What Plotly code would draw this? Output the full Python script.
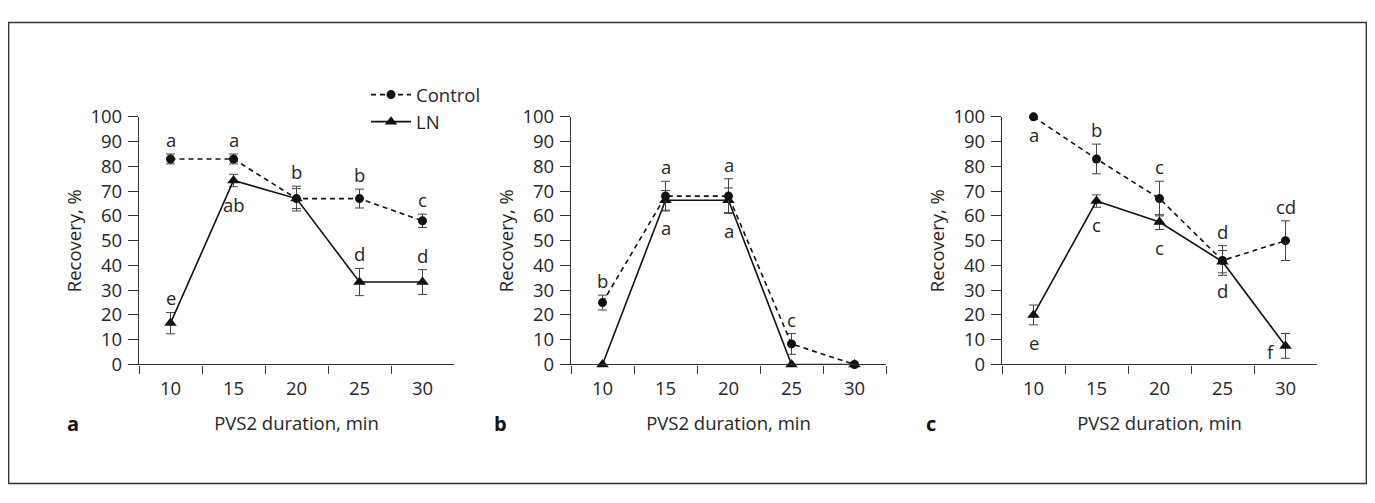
import plotly.graph_objects as go

durations = ["10", "15", "20", "25", "30"]
y_ticks = [0, 10, 20, 30, 40, 50, 60, 70, 80, 90, 100]

# Panel a
a_control = [83, 83, 67, 67, 58]
a_control_err = [2, 2, 5, 3.8, 2.7]
a_ln = [16.7, 74.3, 67, 33.3, 33.3]
a_ln_err = [4.3, 2.5, 4, 5.5, 5]
a_control_letters = ["a", "a", "b", "b", "c"]
a_ln_letters = ["e", "ab", "", "d", "d"]

# Panel b
b_control = [25, 68, 68, 8.3, 0]
b_control_err = [3, 6, 7, 4.2, 0]
b_ln = [0, 66.3, 66.3, 0, 0]
b_ln_err = [0, 4, 5, 0, 0]
b_control_letters = ["b", "a", "a", "c", ""]
b_ln_letters = ["", "a", "a", "", ""]

# Panel c
c_control = [100, 83, 67, 42, 50]
c_control_err = [0, 6, 7, 6, 8]
c_ln = [20, 66, 57.5, 41.5, 7.5]
c_ln_err = [4, 2.5, 3, 4.5, 5]
c_control_letters = ["a", "b", "c", "d", "cd"]
c_ln_letters = ["e", "c", "c", "d", "f"]

# label placement: "u" above error bar, "d" below error bar, "l" left of point
a_control_pos = ["u", "u", "u", "u", "u"]
a_ln_pos = ["u", "d", "u", "u", "u"]
b_control_pos = ["u", "u", "u", "u", "u"]
b_ln_pos = ["d", "d", "d", "d", "d"]
c_control_pos = ["d", "u", "u", "u", "u"]
c_ln_pos = ["d", "d", "d", "d", "l"]

FONT = "Open Sans"
FS = 18.5
TXT = "#262626"
# the page body has an 8px margin, so the figure is drawn 8px smaller on each side
OFF = 8
W, H = 1375 - 2 * OFF, 503 - 2 * OFF


def px(x):
    return (x - OFF) / W


def py(y):
    return 1 - (y - OFF) / H


panels = [
    (a_control, a_control_err, a_ln, a_ln_err, a_control_letters, a_ln_letters, a_control_pos, a_ln_pos, "a"),
    (b_control, b_control_err, b_ln, b_ln_err, b_control_letters, b_ln_letters, b_control_pos, b_ln_pos, "b"),
    (c_control, c_control_err, c_ln, c_ln_err, c_control_letters, c_ln_letters, c_control_pos, c_ln_pos, "c"),
]
x_px = [(139, 454), (571, 886), (1002, 1317)]
y_dom = [py(369), py(108)]
letter_px = [73, 500, 931]

fig = go.Figure()
annotations = []
idx = list(range(len(durations)))
for i, (ctl, ctl_e, ln, ln_e, ctl_l, ln_l, ctl_p, ln_p, tag) in enumerate(panels):
    xa = "x" if i == 0 else f"x{i+1}"
    ya = "y" if i == 0 else f"y{i+1}"
    fig.add_trace(go.Scatter(
        x=durations, y=ln, xaxis=xa, yaxis=ya, name="LN",
        mode="lines+markers", cliponaxis=False, showlegend=False,
        line=dict(color="#111", width=1.6),
        marker=dict(symbol="triangle-up", size=11, color="#111"),
        error_y=dict(type="data", array=ln_e, visible=True, color="#444", thickness=1, width=4.5),
    ))
    fig.add_trace(go.Scatter(
        x=durations, y=ctl, xaxis=xa, yaxis=ya, name="Control",
        mode="lines+markers", cliponaxis=False, showlegend=(i == 0),
        line=dict(color="#111", width=1.6, dash="5px,4px"),
        marker=dict(symbol="circle", size=9, color="#111"),
        error_y=dict(type="data", array=ctl_e, visible=True, color="#444", thickness=1, width=4.5),
    ))
    if i == 0:
        fig.add_trace(go.Scatter(
            x=[None], y=[None], xaxis=xa, yaxis=ya, name="LN",
            mode="lines+markers", showlegend=True,
            line=dict(color="#111", width=1.6),
            marker=dict(symbol="triangle-up", size=11, color="#111"),
        ))
    for vals, errs, letters, poss in ((ctl, ctl_e, ctl_l, ctl_p), (ln, ln_e, ln_l, ln_p)):
        for k, v, e, t, p in zip(idx, vals, errs, letters, poss):
            if not t:
                continue
            f = dict(family=FONT, size=FS, color=TXT)
            if p == "u":
                annotations.append(dict(x=k, y=v + e, xref=xa, yref=ya, text=t, showarrow=False,
                                        yanchor="bottom", yshift=0, font=f))
            elif p == "d":
                annotations.append(dict(x=k, y=v - e, xref=xa, yref=ya, text=t, showarrow=False,
                                        yanchor="top", yshift=-3, font=f))
            else:
                annotations.append(dict(x=k, y=v, xref=xa, yref=ya, text=t, showarrow=False,
                                        xanchor="right", xshift=-9, yshift=-6, font=f))
    annotations.append(dict(x=px(letter_px[i]), y=py(431), xref="paper", yref="paper",
                            text=f"<b>{tag}</b>", showarrow=False, xanchor="center", yanchor="middle",
                            font=dict(family=FONT, size=20, color="#111")))

layout = dict(
    width=W, height=H,
    margin=dict(l=0, r=0, t=0, b=0),
    paper_bgcolor="white", plot_bgcolor="white",
    font=dict(family=FONT, size=FS, color=TXT),
    annotations=annotations,
    legend=dict(x=px(366), y=py(65), xanchor="left", yanchor="top",
                font=dict(family=FONT, size=FS, color=TXT), bgcolor="rgba(0,0,0,0)",
                tracegroupgap=0, itemwidth=40),
    shapes=[dict(type="rect", xref="paper", yref="paper",
                 x0=0.6 / W, x1=1 - 0.6 / W, y0=0.6 / H, y1=1 - 0.6 / H,
                 line=dict(color="#333", width=1.5))],
)
for i in range(3):
    sfx = "" if i == 0 else str(i + 1)
    x0, x1 = x_px[i]
    layout["xaxis" + sfx] = dict(
        domain=[px(x0), px(x1)], anchor="y" + sfx, type="category",
        categoryorder="array", categoryarray=durations, range=[-0.5, 4.5],
        tickson="boundaries", ticks="outside", ticklen=8, tickcolor="#333", tickwidth=1.2,
        ticklabelstandoff=7,
        showline=True, linecolor="#333", linewidth=1.2, showgrid=False, zeroline=False,
        tickfont=dict(family=FONT, size=FS, color=TXT),
        title=dict(text="PVS2 duration, min", standoff=18, font=dict(family=FONT, size=FS, color=TXT)),
    )
    layout["yaxis" + sfx] = dict(
        domain=y_dom, anchor="x" + sfx, range=[0, 100], tickvals=y_ticks,
        ticks="outside", ticklen=10, tickcolor="#333", tickwidth=1.2,
        ticklabelstandoff=2,
        showline=True, linecolor="#333", linewidth=1.2, showgrid=False, zeroline=False,
        tickfont=dict(family=FONT, size=FS, color=TXT),
        title=dict(text="Recovery, %", standoff=3, font=dict(family=FONT, size=FS, color=TXT)),
    )
fig.update_layout(**layout)
fig.write_html("out.html")
